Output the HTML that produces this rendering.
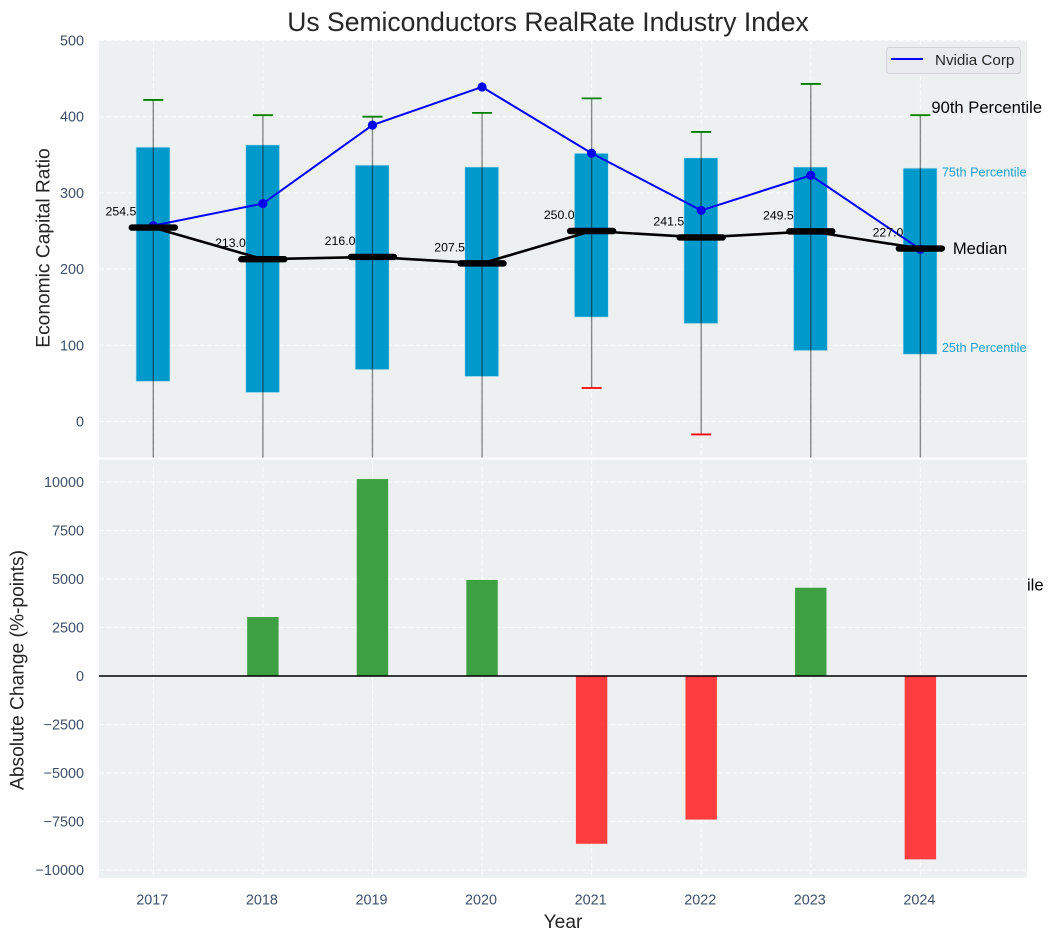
<!DOCTYPE html>
<html lang="en">
<head>
<meta charset="utf-8">
<title>Us Semiconductors RealRate Industry Index</title>
<style>
html,body{margin:0;padding:0;background:#fff;}
svg{display:block;font-family:"Liberation Sans",Arial,sans-serif;}
</style>
</head>
<body>
<svg id="chart" xmlns="http://www.w3.org/2000/svg" width="1051" height="940" viewBox="0 0 1051 940">
<defs><clipPath id="top-clip"><rect x="99" y="40" width="928" height="417.5"/></clipPath></defs>
</svg>
<script>
const years = [2017, 2018, 2019, 2020, 2021, 2022, 2023, 2024];
const p90 = [422, 402, 400, 405, 424, 380, 443, 402];
const p75 = [360, 363, 336.5, 334, 352, 346, 334, 332.5];
const medians = [254.5, 213.0, 216.0, 207.5, 250.0, 241.5, 249.5, 227.0];
const p25 = [52.5, 38, 68, 59, 137, 128.5, 93, 88];
const p10 = [-90, -120, -70, -100, 44, -17, -60, -205];
const nvidia = [257, 286, 389, 439, 352, 277, 323, 226];
const changes = [0, 3040, 10150, 4950, -8650, -7400, 4550, -9450];
const topTicks = [0, 100, 200, 300, 400, 500];
const bottomTicks = [-10000, -7500, -5000, -2500, 0, 2500, 5000, 7500, 10000];

const svg = document.getElementById('chart');
const NS = 'http://www.w3.org/2000/svg';
const fx = v => 153.3 + (v - 2017) * 109.58;
const fyTop = v => 421.5 - v * 0.762;
const fyBottom = v => 676 - v * 0.0194;
const L = 99, R = 1027, T1 = 40, B1 = 457.5, T2 = 459.5, B2 = 878;

function mk(tag, attrs, parent, text) {
  const el = document.createElementNS(NS, tag);
  for (const k in attrs) el.setAttribute(k, attrs[k]);
  if (text !== undefined) el.textContent = text;
  (parent || svg).appendChild(el);
  return el;
}
function label(el, name) {
  
  
  return el;
}
function gridLine(x1, y1, x2, y2, parent) {
  return mk('line', {x1, y1, x2, y2, stroke: '#ffffff', 'stroke-opacity': 0.75, 'stroke-width': 1.1, 'stroke-dasharray': '5 2.2'}, parent);
}
const tickStyle = {fill: '#3f5068', 'font-size': 14.4};

/* ---------- top panel ---------- */
const topPanel = label(mk('g', {}), 'capital-ratio-panel');
label(mk('rect', {x: L, y: T1, width: R - L, height: B1 - T1, fill: '#ecf0f1'}, topPanel), 'top-plot-background');
const topGrid = label(mk('g', {}, topPanel), 'top-gridlines');
topTicks.forEach(t => gridLine(L, fyTop(t), R, fyTop(t), topGrid));
years.forEach(y => gridLine(fx(y), T1, fx(y), B1, topGrid));
topTicks.forEach(t => {
  const tx = mk('text', Object.assign({x: 84, y: fyTop(t) + 5, 'text-anchor': 'end'}, tickStyle), topPanel, String(t));
  label(tx, 'y-tick-top-' + t);
});

const clipped = mk('g', {'clip-path': 'url(#top-clip)'}, topPanel);
label(clipped, 'percentile-marks');
years.forEach((y, i) => {
  const top = fyTop(p75[i]), bottom = fyTop(p25[i]);
  const box = mk('rect', {x: fx(y) - 17.3, y: top, width: 34, height: bottom - top, fill: '#0099cc', stroke: '#c5e3ee', 'stroke-width': 0.7}, clipped);
  label(box, 'box-' + y);
});
years.forEach((y, i) => {
  const w = mk('line', {x1: fx(y), x2: fx(y), y1: fyTop(p90[i]), y2: fyTop(p10[i]), stroke: '#000', 'stroke-opacity': 0.45, 'stroke-width': 1.4}, clipped);
  label(w, 'whisker-' + y);
  const hi = mk('line', {x1: fx(y) - 10, x2: fx(y) + 10, y1: fyTop(p90[i]), y2: fyTop(p90[i]), stroke: '#008000', 'stroke-width': 1.8}, clipped);
  label(hi, 'p90-cap-' + y);
  const lo = mk('line', {x1: fx(y) - 10, x2: fx(y) + 10, y1: fyTop(p10[i]), y2: fyTop(p10[i]), stroke: '#ff0000', 'stroke-width': 1.8}, clipped);
  label(lo, 'p10-cap-' + y);
});

const nvidiaPts = years.map((y, i) => fx(y) + ',' + fyTop(nvidia[i])).join(' ');
label(mk('polyline', {points: nvidiaPts, fill: 'none', stroke: '#0000ff', 'stroke-width': 2}, clipped), 'nvidia-line');
years.forEach((y, i) => {
  label(mk('circle', {cx: fx(y), cy: fyTop(nvidia[i]), r: 4.6, fill: '#0000ee'}, clipped), 'nvidia-point-' + y);
});

const medianPts = years.map((y, i) => fx(y) + ',' + fyTop(medians[i])).join(' ');
label(mk('polyline', {points: medianPts, fill: 'none', stroke: '#000', 'stroke-width': 2.6}, clipped), 'median-line');
years.forEach((y, i) => {
  const m = mk('line', {x1: fx(y) - 21.5, x2: fx(y) + 21.5, y1: fyTop(medians[i]), y2: fyTop(medians[i]), stroke: '#000', 'stroke-width': 6.4, 'stroke-linecap': 'round'}, clipped);
  label(m, 'median-bar-' + y);
});
years.forEach((y, i) => {
  const t = mk('text', {x: fx(y) - 17, y: fyTop(medians[i]) - 12, 'text-anchor': 'end', 'font-size': 12.3, fill: '#000'}, topPanel, medians[i].toFixed(1));
  label(t, 'median-value-' + y);
});

/* text that runs under the lower panel: only its tail stays visible */
const lastX = fx(years[years.length - 1]);
const lastI = years.length - 1;
label(mk('text', {x: lastX + 11, y: fyTop(p90[lastI]) - 2, 'font-size': 16.6, fill: '#000'}, topPanel, '90th Percentile'), 'p90-annotation');
label(mk('text', {x: lastX + 12.5, y: fyTop(p10[lastI]) + 13, 'font-size': 16.6, fill: '#000'}, topPanel, '10th Percentile'), 'p10-annotation');
label(mk('text', {x: lastX + 21.5, y: fyTop(p75[lastI]) + 8.5, 'font-size': 12.7, fill: '#1fa0cf'}, topPanel, '75th Percentile'), 'p75-annotation');
label(mk('text', {x: lastX + 21.5, y: fyTop(p25[lastI]) - 2.5, 'font-size': 12.7, fill: '#1fa0cf'}, topPanel, '25th Percentile'), 'p25-annotation');
label(mk('text', {x: lastX + 32.5, y: fyTop(medians[lastI]) + 5.5, 'font-size': 16.6, fill: '#000'}, topPanel, 'Median'), 'median-annotation');

/* ---------- legend ---------- */
const legend = label(mk('g', {}), 'legend');
label(mk('rect', {x: 886.5, y: 47.5, width: 134, height: 26, rx: 3, fill: '#e8eaf0', stroke: '#d2d4d8', 'stroke-width': 1}, legend), 'legend-frame');
label(mk('line', {x1: 891, x2: 923, y1: 59, y2: 59, stroke: '#0000ff', 'stroke-width': 2}, legend), 'legend-line-nvidia');
label(mk('text', {x: 935, y: 65, 'font-size': 15.2, fill: '#262626'}, legend, 'Nvidia Corp'), 'legend-label-nvidia');

/* ---------- bottom panel ---------- */
const bottomPanel = label(mk('g', {}), 'absolute-change-panel');
label(mk('rect', {x: 0, y: T2, width: 99, height: B2 - T2, fill: '#fff'}, bottomPanel), 'left-margin');
label(mk('rect', {x: L, y: T2, width: R - L, height: B2 - T2, fill: '#ecf0f1'}, bottomPanel), 'bottom-plot-background');
const bottomGrid = label(mk('g', {}, bottomPanel), 'bottom-gridlines');
bottomTicks.forEach(t => gridLine(L, fyBottom(t), R, fyBottom(t), bottomGrid));
years.forEach(y => gridLine(fx(y), T2, fx(y), B2, bottomGrid));
bottomTicks.forEach(t => {
  const s = t < 0 ? '\u2212' + Math.abs(t) : String(t);
  const tx = mk('text', Object.assign({x: 84, y: fyBottom(t) + 5, 'text-anchor': 'end'}, tickStyle), bottomPanel, s);
  label(tx, 'y-tick-bottom-' + t);
});
years.forEach((y, i) => {
  const v = changes[i];
  if (v === 0) return;
  const top = fyBottom(Math.max(v, 0)), bottom = fyBottom(Math.min(v, 0));
  const b = mk('rect', {x: fx(y) - 15.7, y: top, width: 31.4, height: bottom - top, fill: v > 0 ? '#2f9a35' : '#ff3030', 'fill-opacity': 0.93}, bottomPanel);
  label(b, 'change-bar-' + y);
});
label(mk('line', {x1: L, x2: R, y1: fyBottom(0), y2: fyBottom(0), stroke: '#000', 'stroke-width': 1.5}, bottomPanel), 'zero-line');
years.forEach(y => {
  const tx = mk('text', Object.assign({x: fx(y) - 1, y: 904.5, 'text-anchor': 'middle'}, tickStyle), bottomPanel, String(y));
  label(tx, 'x-tick-' + y);
});

/* ---------- titles ---------- */
label(mk('text', {x: 548, y: 31, 'text-anchor': 'middle', 'font-size': 26.5, fill: '#262626'}, svg, 'Us Semiconductors RealRate Industry Index'), 'chart-title');
label(mk('text', {x: 563, y: 928, 'text-anchor': 'middle', 'font-size': 19.2, fill: '#262626'}, svg, 'Year'), 'x-axis-title');
label(mk('text', {transform: 'translate(49.5 248) rotate(-90)', 'text-anchor': 'middle', 'font-size': 19.2, fill: '#262626'}, svg, 'Economic Capital Ratio'), 'y-axis-title-top');
label(mk('text', {transform: 'translate(23.5 670) rotate(-90)', 'text-anchor': 'middle', 'font-size': 19.2, fill: '#262626'}, svg, 'Absolute Change (%-points)'), 'y-axis-title-bottom');
</script>
</body>
</html>
